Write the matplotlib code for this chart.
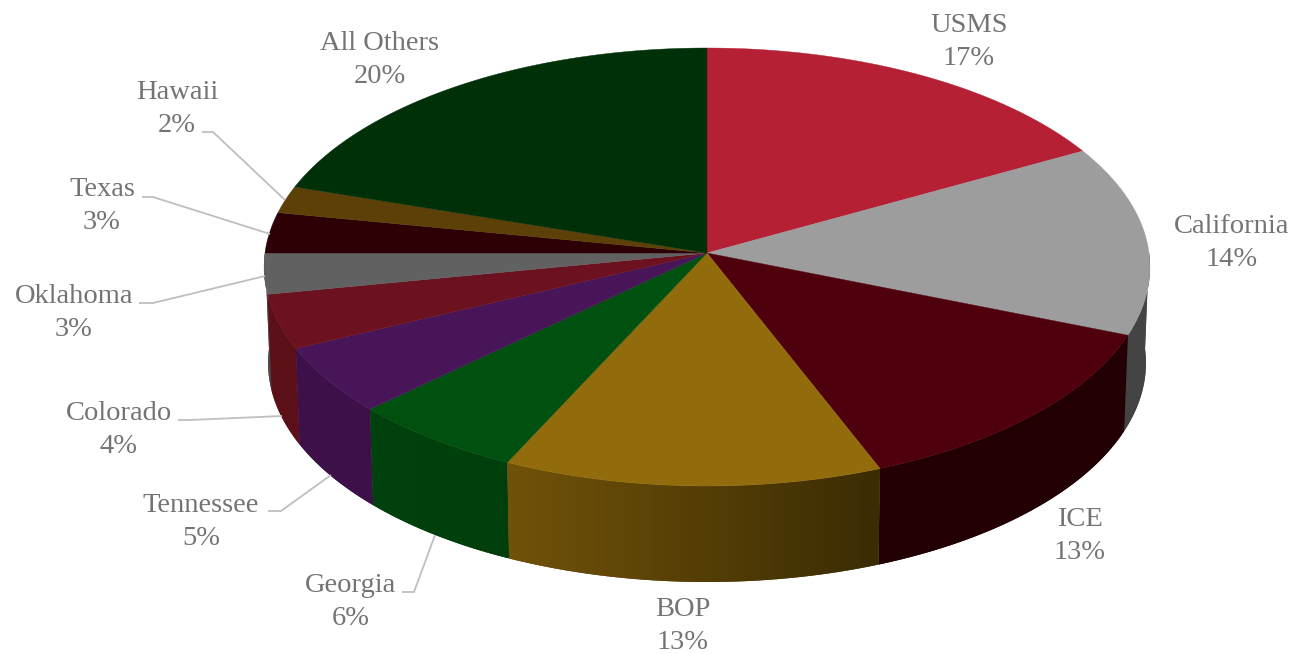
import numpy as np
import matplotlib
matplotlib.use("Agg")
import matplotlib.pyplot as plt
from matplotlib.colors import to_rgb
from matplotlib.patches import Polygon

# share of total per group, clockwise from twelve o'clock
labels = ["USMS", "California", "ICE", "BOP", "Georgia", "Tennessee",
          "Colorado", "Oklahoma", "Texas", "Hawaii", "All Others"]
values = [17, 14, 13, 13, 6, 5, 4, 3, 3, 2, 20]

top_colors = ["#b52035", "#9d9d9d", "#4e000d", "#926b0c", "#005010", "#481558",
              "#6b111f", "#616161", "#2d0006", "#5c4007", "#003008"]
# wall shade at the left and right end of each slice
side_left = ["#7a1623", "#444444", "#220003", "#715209", "#00420e", "#3e1049",
             "#5c1018", "#4a4a4a", "#200004", "#403005", "#002006"]
side_right = ["#7a1623", "#444444", "#220003", "#3b2c04", "#003f0c", "#3e1049",
              "#5c1018", "#4a4a4a", "#200004", "#403005", "#002006"]

# name/percent label centres, in pixels
label_pos = [(969, 42), (1232, 243), (1080, 536), (683, 626), (351, 602), (201, 522),
             (119, 430), (74, 313), (102, 206), (177, 109), (380, 60)]

# leader lines for the small slices
leaders = [
    [(202, 132), (213, 132), (285, 200)],
    [(142, 197), (153, 197), (270, 234)],
    [(139, 303), (153, 303), (265, 276)],
    [(178, 420), (190, 420), (282, 416)],
    [(268, 511), (281, 511), (331, 475)],
    [(402, 592), (414, 592), (435, 535)],
]

# pie geometry: a tilted disc seen in perspective
CX, CY = 707, 253
A, B, K = 442.0, 218.1, 0.0639
DEPTH = 96
BOTTOM_SCALE = 0.991


def rim(theta, scale=1.0, drop=0.0):
    """Point(s) on the disc rim; theta in radians clockwise from the top."""
    u, v = np.sin(theta), np.cos(theta)
    d = 1 + K * v
    return np.column_stack([CX + scale * A * u / d, CY + drop - B * v / d])


def draw_side(ax, t0, t1, left, right, z):
    """Outer wall of one slice, filled with a left-to-right gradient."""
    t0, t1 = max(t0, np.pi / 2), min(t1, 1.5 * np.pi)
    if t1 <= t0:
        return
    arc = np.linspace(t0, t1, 80)
    pts = np.vstack([rim(arc), rim(arc[::-1], BOTTOM_SCALE, DEPTH)])
    x0, y0 = pts.min(axis=0)
    x1, y1 = pts.max(axis=0)

    left, right = np.array(to_rgb(left)), np.array(to_rgb(right))
    # solid base under the image keeps the clipped edge smooth
    ax.add_patch(Polygon(pts, closed=True, facecolor=(left + right) / 2,
                         edgecolor="none", zorder=z))
    mix = np.linspace(0, 1, 256)[None, :, None]
    img = ax.imshow(left + (right - left) * mix, extent=(x0, x1, y1, y0), aspect="auto",
                    interpolation="bilinear", zorder=z + 0.1)
    img.set_clip_path(Polygon(pts, closed=True, transform=ax.transData))


def main():
    fig = plt.figure(figsize=(12.94, 6.54), dpi=100)
    ax = fig.add_axes([0, 0, 1, 1])

    total = sum(values)
    stops = 2 * np.pi * np.cumsum([0] + values) / total

    # walls first, running from both sides towards the front so nearer ones overlap
    order = sorted(range(len(values)), key=lambda i: -abs((stops[i] + stops[i + 1]) / 2 - np.pi))
    for z, i in enumerate(order):
        draw_side(ax, stops[i], stops[i + 1], side_left[i], side_right[i], 1 + z)

    for i in range(len(values)):
        arc = np.linspace(stops[i], stops[i + 1], 120)
        pts = np.vstack([[CX, CY], rim(arc)])
        ax.add_patch(Polygon(pts, closed=True, facecolor=top_colors[i],
                             edgecolor=top_colors[i], lw=0.3, zorder=20))

    for line in leaders:
        xs, ys = zip(*line)
        ax.plot(xs, ys, color="#bfbfbf", lw=1.3, solid_capstyle="butt", zorder=30)

    for name, val, (x, y) in zip(labels, values, label_pos):
        ax.text(x, y, f"{name}\n{val}%", ha="center", va="center", color="#747474",
                family="Liberation Serif", fontsize=20.5, linespacing=1.38, zorder=31)

    ax.set_xlim(0, 1294)
    ax.set_ylim(654, 0)
    ax.axis("off")
    fig.savefig("out.png", dpi=100)


if __name__ == "__main__":
    main()
